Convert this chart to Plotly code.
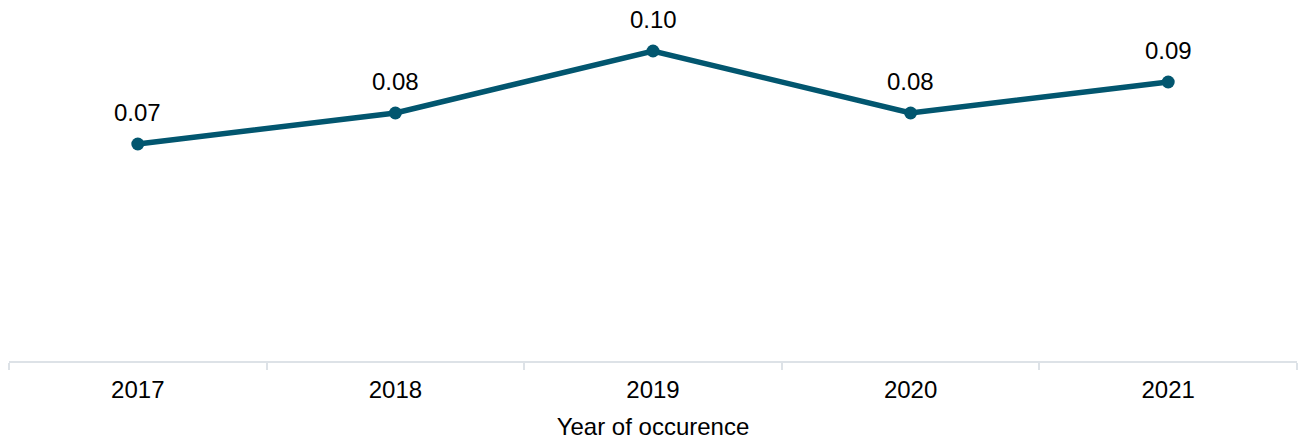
import plotly.graph_objects as go

# Yearly rate by year of occurrence
years = ["2017", "2018", "2019", "2020", "2021"]
rates = [0.07, 0.08, 0.10, 0.08, 0.09]
rate_labels = [f"{v:.2f}" for v in rates]

line_color = "#02566f"
axis_color = "#dde2e7"
font_family = "Liberation Sans, Arial, sans-serif"
font_size = 24

fig = go.Figure(
    go.Scatter(
        x=years,
        y=rates,
        mode="lines+markers",
        line=dict(color=line_color, width=5.5),
        marker=dict(color=line_color, size=13),
        cliponaxis=False,
        hoverinfo="skip",
    )
)

# Value labels above each point (category axis positions are indices)
for idx, (val, lab) in enumerate(zip(rates, rate_labels)):
    fig.add_annotation(
        x=idx,
        y=val,
        xref="x",
        yref="y",
        text=lab,
        showarrow=False,
        yanchor="middle",
        yshift=32,
        font=dict(size=font_size, color="#000000", family=font_family),
    )

fig.update_layout(
    width=1299,
    height=443,
    margin=dict(l=9, r=2, t=0, b=82),
    paper_bgcolor="white",
    plot_bgcolor="white",
    showlegend=False,
    font=dict(family=font_family, size=font_size, color="#000000"),
)

fig.update_xaxes(
    type="category",
    range=[-0.5, len(years) - 0.5],
    showline=True,
    linecolor=axis_color,
    linewidth=2,
    ticks="outside",
    tickson="boundaries",
    ticklen=7,
    tickwidth=2,
    tickcolor=axis_color,
    showgrid=False,
    zeroline=False,
    ticklabelstandoff=6,
    tickfont=dict(size=font_size, color="#000000"),
    title=dict(text="Year of occurence", font=dict(size=font_size, color="#000000"), standoff=16),
    automargin=False,
)

fig.update_yaxes(
    visible=False,
    range=[0, 0.11645],
    showgrid=False,
    zeroline=False,
)

fig.write_html("out.html")
